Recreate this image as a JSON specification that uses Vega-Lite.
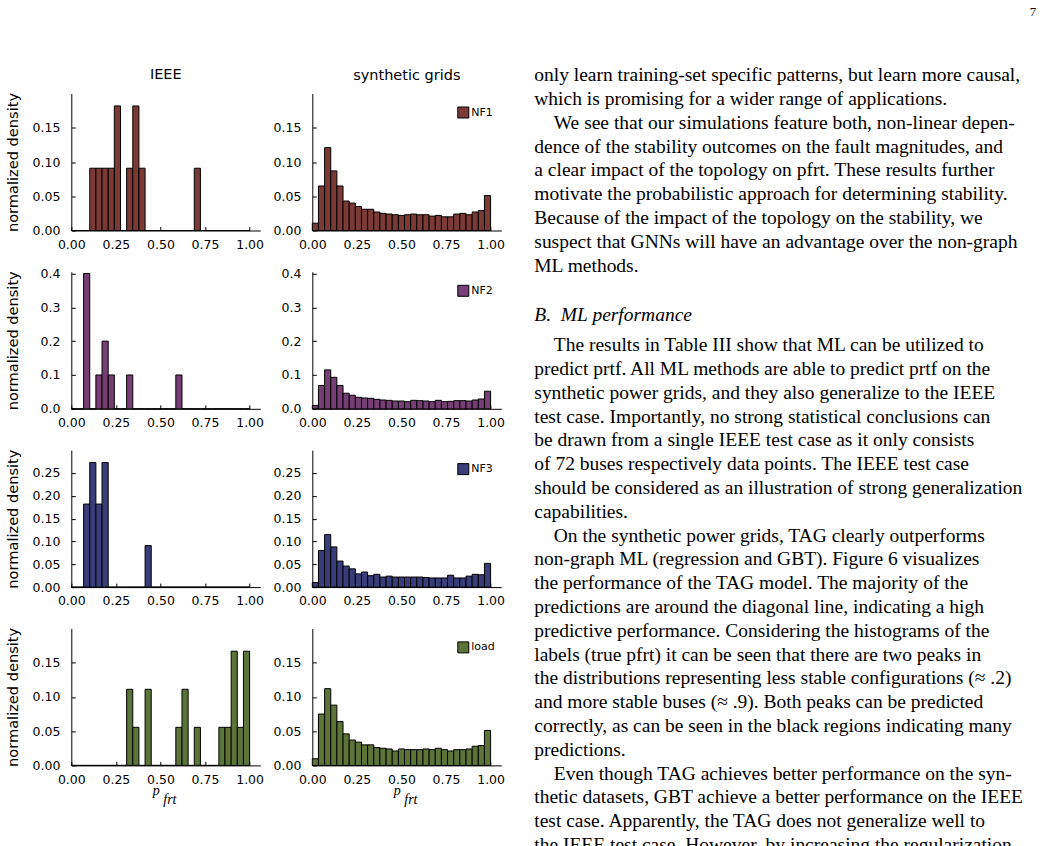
{
"$schema": "https://vega.github.io/schema/vega-lite/v6.json",
"background": "white",
"padding": {"left": 5.3, "top": 5.5, "right": 0, "bottom": 0},
"spacing": 29,
"config": {
  "font": "DejaVu Sans",
  "view": {"stroke": null},
  "axis": {"grid": false, "domainColor": "black", "domainWidth": 1, "tickColor": "black", "tickSize": -4, "tickWidth": 1, "labelFlush": false, "labelOverlap": false, "labelFont": "DejaVu Sans", "labelFontSize": 12.5, "labelColor": "black", "titleFont": "DejaVu Sans", "titleFontSize": 14.6, "titleFontWeight": "normal", "titleColor": "black"},
  "axisX": {"labelPadding": 11.8},
  "axisY": {"labelPadding": 15.4},
  "title": {"font": "DejaVu Sans", "fontSize": 14.5, "fontWeight": "normal", "color": "black", "anchor": "middle", "offset": 10},
  "legend": {"symbolType": "square", "symbolSize": 121, "symbolStrokeColor": "black", "symbolStrokeWidth": 1, "symbolOpacity": 1, "labelFont": "DejaVu Sans", "labelFontSize": 11, "labelColor": "black", "labelOffset": 2, "padding": 0}
},
"resolve": {"scale": {"fill": "independent"}, "legend": {"fill": "independent"}},
"datasets": {
"hist": [
{"grid":"IEEE","feature":"NF1","start":0,"end":0.0345,"density":0},
{"grid":"IEEE","feature":"NF1","start":0.0345,"end":0.069,"density":0},
{"grid":"IEEE","feature":"NF1","start":0.069,"end":0.1034,"density":0},
{"grid":"IEEE","feature":"NF1","start":0.1034,"end":0.1379,"density":0.0909},
{"grid":"IEEE","feature":"NF1","start":0.1379,"end":0.1724,"density":0.0909},
{"grid":"IEEE","feature":"NF1","start":0.1724,"end":0.2069,"density":0.0909},
{"grid":"IEEE","feature":"NF1","start":0.2069,"end":0.2414,"density":0.0909},
{"grid":"IEEE","feature":"NF1","start":0.2414,"end":0.2759,"density":0.1818},
{"grid":"IEEE","feature":"NF1","start":0.2759,"end":0.3103,"density":0},
{"grid":"IEEE","feature":"NF1","start":0.3103,"end":0.3448,"density":0.0909},
{"grid":"IEEE","feature":"NF1","start":0.3448,"end":0.3793,"density":0.1818},
{"grid":"IEEE","feature":"NF1","start":0.3793,"end":0.4138,"density":0.0909},
{"grid":"IEEE","feature":"NF1","start":0.4138,"end":0.4483,"density":0},
{"grid":"IEEE","feature":"NF1","start":0.4483,"end":0.4828,"density":0},
{"grid":"IEEE","feature":"NF1","start":0.4828,"end":0.5172,"density":0},
{"grid":"IEEE","feature":"NF1","start":0.5172,"end":0.5517,"density":0},
{"grid":"IEEE","feature":"NF1","start":0.5517,"end":0.5862,"density":0},
{"grid":"IEEE","feature":"NF1","start":0.5862,"end":0.6207,"density":0},
{"grid":"IEEE","feature":"NF1","start":0.6207,"end":0.6552,"density":0},
{"grid":"IEEE","feature":"NF1","start":0.6552,"end":0.6897,"density":0},
{"grid":"IEEE","feature":"NF1","start":0.6897,"end":0.7241,"density":0.0909},
{"grid":"IEEE","feature":"NF1","start":0.7241,"end":0.7586,"density":0},
{"grid":"IEEE","feature":"NF1","start":0.7586,"end":0.7931,"density":0},
{"grid":"IEEE","feature":"NF1","start":0.7931,"end":0.8276,"density":0},
{"grid":"IEEE","feature":"NF1","start":0.8276,"end":0.8621,"density":0},
{"grid":"IEEE","feature":"NF1","start":0.8621,"end":0.8966,"density":0},
{"grid":"IEEE","feature":"NF1","start":0.8966,"end":0.931,"density":0},
{"grid":"IEEE","feature":"NF1","start":0.931,"end":0.9655,"density":0},
{"grid":"IEEE","feature":"NF1","start":0.9655,"end":1,"density":0},
{"grid":"synthetic","feature":"NF1","start":0,"end":0.0345,"density":0.0107},
{"grid":"synthetic","feature":"NF1","start":0.0345,"end":0.069,"density":0.065},
{"grid":"synthetic","feature":"NF1","start":0.069,"end":0.1034,"density":0.121},
{"grid":"synthetic","feature":"NF1","start":0.1034,"end":0.1379,"density":0.087},
{"grid":"synthetic","feature":"NF1","start":0.1379,"end":0.1724,"density":0.065},
{"grid":"synthetic","feature":"NF1","start":0.1724,"end":0.2069,"density":0.043},
{"grid":"synthetic","feature":"NF1","start":0.2069,"end":0.2414,"density":0.04},
{"grid":"synthetic","feature":"NF1","start":0.2414,"end":0.2759,"density":0.035},
{"grid":"synthetic","feature":"NF1","start":0.2759,"end":0.3103,"density":0.031},
{"grid":"synthetic","feature":"NF1","start":0.3103,"end":0.3448,"density":0.031},
{"grid":"synthetic","feature":"NF1","start":0.3448,"end":0.3793,"density":0.027},
{"grid":"synthetic","feature":"NF1","start":0.3793,"end":0.4138,"density":0.025},
{"grid":"synthetic","feature":"NF1","start":0.4138,"end":0.4483,"density":0.024},
{"grid":"synthetic","feature":"NF1","start":0.4483,"end":0.4828,"density":0.023},
{"grid":"synthetic","feature":"NF1","start":0.4828,"end":0.5172,"density":0.022},
{"grid":"synthetic","feature":"NF1","start":0.5172,"end":0.5517,"density":0.023},
{"grid":"synthetic","feature":"NF1","start":0.5517,"end":0.5862,"density":0.024},
{"grid":"synthetic","feature":"NF1","start":0.5862,"end":0.6207,"density":0.023},
{"grid":"synthetic","feature":"NF1","start":0.6207,"end":0.6552,"density":0.023},
{"grid":"synthetic","feature":"NF1","start":0.6552,"end":0.6897,"density":0.021},
{"grid":"synthetic","feature":"NF1","start":0.6897,"end":0.7241,"density":0.022},
{"grid":"synthetic","feature":"NF1","start":0.7241,"end":0.7586,"density":0.02},
{"grid":"synthetic","feature":"NF1","start":0.7586,"end":0.7931,"density":0.02},
{"grid":"synthetic","feature":"NF1","start":0.7931,"end":0.8276,"density":0.024},
{"grid":"synthetic","feature":"NF1","start":0.8276,"end":0.8621,"density":0.025},
{"grid":"synthetic","feature":"NF1","start":0.8621,"end":0.8966,"density":0.023},
{"grid":"synthetic","feature":"NF1","start":0.8966,"end":0.931,"density":0.027},
{"grid":"synthetic","feature":"NF1","start":0.931,"end":0.9655,"density":0.029},
{"grid":"synthetic","feature":"NF1","start":0.9655,"end":1,"density":0.051},
{"grid":"IEEE","feature":"NF2","start":0,"end":0.0345,"density":0},
{"grid":"IEEE","feature":"NF2","start":0.0345,"end":0.069,"density":0},
{"grid":"IEEE","feature":"NF2","start":0.069,"end":0.1034,"density":0.4},
{"grid":"IEEE","feature":"NF2","start":0.1034,"end":0.1379,"density":0},
{"grid":"IEEE","feature":"NF2","start":0.1379,"end":0.1724,"density":0.1},
{"grid":"IEEE","feature":"NF2","start":0.1724,"end":0.2069,"density":0.2},
{"grid":"IEEE","feature":"NF2","start":0.2069,"end":0.2414,"density":0.1},
{"grid":"IEEE","feature":"NF2","start":0.2414,"end":0.2759,"density":0},
{"grid":"IEEE","feature":"NF2","start":0.2759,"end":0.3103,"density":0},
{"grid":"IEEE","feature":"NF2","start":0.3103,"end":0.3448,"density":0.1},
{"grid":"IEEE","feature":"NF2","start":0.3448,"end":0.3793,"density":0},
{"grid":"IEEE","feature":"NF2","start":0.3793,"end":0.4138,"density":0},
{"grid":"IEEE","feature":"NF2","start":0.4138,"end":0.4483,"density":0},
{"grid":"IEEE","feature":"NF2","start":0.4483,"end":0.4828,"density":0},
{"grid":"IEEE","feature":"NF2","start":0.4828,"end":0.5172,"density":0},
{"grid":"IEEE","feature":"NF2","start":0.5172,"end":0.5517,"density":0},
{"grid":"IEEE","feature":"NF2","start":0.5517,"end":0.5862,"density":0},
{"grid":"IEEE","feature":"NF2","start":0.5862,"end":0.6207,"density":0.1},
{"grid":"IEEE","feature":"NF2","start":0.6207,"end":0.6552,"density":0},
{"grid":"IEEE","feature":"NF2","start":0.6552,"end":0.6897,"density":0},
{"grid":"IEEE","feature":"NF2","start":0.6897,"end":0.7241,"density":0},
{"grid":"IEEE","feature":"NF2","start":0.7241,"end":0.7586,"density":0},
{"grid":"IEEE","feature":"NF2","start":0.7586,"end":0.7931,"density":0},
{"grid":"IEEE","feature":"NF2","start":0.7931,"end":0.8276,"density":0},
{"grid":"IEEE","feature":"NF2","start":0.8276,"end":0.8621,"density":0},
{"grid":"IEEE","feature":"NF2","start":0.8621,"end":0.8966,"density":0},
{"grid":"IEEE","feature":"NF2","start":0.8966,"end":0.931,"density":0},
{"grid":"IEEE","feature":"NF2","start":0.931,"end":0.9655,"density":0},
{"grid":"IEEE","feature":"NF2","start":0.9655,"end":1,"density":0},
{"grid":"synthetic","feature":"NF2","start":0,"end":0.0345,"density":0.01},
{"grid":"synthetic","feature":"NF2","start":0.0345,"end":0.069,"density":0.069},
{"grid":"synthetic","feature":"NF2","start":0.069,"end":0.1034,"density":0.115},
{"grid":"synthetic","feature":"NF2","start":0.1034,"end":0.1379,"density":0.093},
{"grid":"synthetic","feature":"NF2","start":0.1379,"end":0.1724,"density":0.069},
{"grid":"synthetic","feature":"NF2","start":0.1724,"end":0.2069,"density":0.046},
{"grid":"synthetic","feature":"NF2","start":0.2069,"end":0.2414,"density":0.04},
{"grid":"synthetic","feature":"NF2","start":0.2414,"end":0.2759,"density":0.034},
{"grid":"synthetic","feature":"NF2","start":0.2759,"end":0.3103,"density":0.032},
{"grid":"synthetic","feature":"NF2","start":0.3103,"end":0.3448,"density":0.031},
{"grid":"synthetic","feature":"NF2","start":0.3448,"end":0.3793,"density":0.028},
{"grid":"synthetic","feature":"NF2","start":0.3793,"end":0.4138,"density":0.026},
{"grid":"synthetic","feature":"NF2","start":0.4138,"end":0.4483,"density":0.025},
{"grid":"synthetic","feature":"NF2","start":0.4483,"end":0.4828,"density":0.023},
{"grid":"synthetic","feature":"NF2","start":0.4828,"end":0.5172,"density":0.023},
{"grid":"synthetic","feature":"NF2","start":0.5172,"end":0.5517,"density":0.021},
{"grid":"synthetic","feature":"NF2","start":0.5517,"end":0.5862,"density":0.025},
{"grid":"synthetic","feature":"NF2","start":0.5862,"end":0.6207,"density":0.024},
{"grid":"synthetic","feature":"NF2","start":0.6207,"end":0.6552,"density":0.023},
{"grid":"synthetic","feature":"NF2","start":0.6552,"end":0.6897,"density":0.021},
{"grid":"synthetic","feature":"NF2","start":0.6897,"end":0.7241,"density":0.025},
{"grid":"synthetic","feature":"NF2","start":0.7241,"end":0.7586,"density":0.021},
{"grid":"synthetic","feature":"NF2","start":0.7586,"end":0.7931,"density":0.022},
{"grid":"synthetic","feature":"NF2","start":0.7931,"end":0.8276,"density":0.024},
{"grid":"synthetic","feature":"NF2","start":0.8276,"end":0.8621,"density":0.024},
{"grid":"synthetic","feature":"NF2","start":0.8621,"end":0.8966,"density":0.023},
{"grid":"synthetic","feature":"NF2","start":0.8966,"end":0.931,"density":0.026},
{"grid":"synthetic","feature":"NF2","start":0.931,"end":0.9655,"density":0.029},
{"grid":"synthetic","feature":"NF2","start":0.9655,"end":1,"density":0.052},
{"grid":"IEEE","feature":"NF3","start":0,"end":0.0345,"density":0},
{"grid":"IEEE","feature":"NF3","start":0.0345,"end":0.069,"density":0},
{"grid":"IEEE","feature":"NF3","start":0.069,"end":0.1034,"density":0.1818},
{"grid":"IEEE","feature":"NF3","start":0.1034,"end":0.1379,"density":0.2727},
{"grid":"IEEE","feature":"NF3","start":0.1379,"end":0.1724,"density":0.1818},
{"grid":"IEEE","feature":"NF3","start":0.1724,"end":0.2069,"density":0.2727},
{"grid":"IEEE","feature":"NF3","start":0.2069,"end":0.2414,"density":0},
{"grid":"IEEE","feature":"NF3","start":0.2414,"end":0.2759,"density":0},
{"grid":"IEEE","feature":"NF3","start":0.2759,"end":0.3103,"density":0},
{"grid":"IEEE","feature":"NF3","start":0.3103,"end":0.3448,"density":0},
{"grid":"IEEE","feature":"NF3","start":0.3448,"end":0.3793,"density":0},
{"grid":"IEEE","feature":"NF3","start":0.3793,"end":0.4138,"density":0},
{"grid":"IEEE","feature":"NF3","start":0.4138,"end":0.4483,"density":0.0909},
{"grid":"IEEE","feature":"NF3","start":0.4483,"end":0.4828,"density":0},
{"grid":"IEEE","feature":"NF3","start":0.4828,"end":0.5172,"density":0},
{"grid":"IEEE","feature":"NF3","start":0.5172,"end":0.5517,"density":0},
{"grid":"IEEE","feature":"NF3","start":0.5517,"end":0.5862,"density":0},
{"grid":"IEEE","feature":"NF3","start":0.5862,"end":0.6207,"density":0},
{"grid":"IEEE","feature":"NF3","start":0.6207,"end":0.6552,"density":0},
{"grid":"IEEE","feature":"NF3","start":0.6552,"end":0.6897,"density":0},
{"grid":"IEEE","feature":"NF3","start":0.6897,"end":0.7241,"density":0},
{"grid":"IEEE","feature":"NF3","start":0.7241,"end":0.7586,"density":0},
{"grid":"IEEE","feature":"NF3","start":0.7586,"end":0.7931,"density":0},
{"grid":"IEEE","feature":"NF3","start":0.7931,"end":0.8276,"density":0},
{"grid":"IEEE","feature":"NF3","start":0.8276,"end":0.8621,"density":0},
{"grid":"IEEE","feature":"NF3","start":0.8621,"end":0.8966,"density":0},
{"grid":"IEEE","feature":"NF3","start":0.8966,"end":0.931,"density":0},
{"grid":"IEEE","feature":"NF3","start":0.931,"end":0.9655,"density":0},
{"grid":"IEEE","feature":"NF3","start":0.9655,"end":1,"density":0},
{"grid":"synthetic","feature":"NF3","start":0,"end":0.0345,"density":0.01},
{"grid":"synthetic","feature":"NF3","start":0.0345,"end":0.069,"density":0.08},
{"grid":"synthetic","feature":"NF3","start":0.069,"end":0.1034,"density":0.115},
{"grid":"synthetic","feature":"NF3","start":0.1034,"end":0.1379,"density":0.088},
{"grid":"synthetic","feature":"NF3","start":0.1379,"end":0.1724,"density":0.057},
{"grid":"synthetic","feature":"NF3","start":0.1724,"end":0.2069,"density":0.046},
{"grid":"synthetic","feature":"NF3","start":0.2069,"end":0.2414,"density":0.04},
{"grid":"synthetic","feature":"NF3","start":0.2414,"end":0.2759,"density":0.029},
{"grid":"synthetic","feature":"NF3","start":0.2759,"end":0.3103,"density":0.033},
{"grid":"synthetic","feature":"NF3","start":0.3103,"end":0.3448,"density":0.025},
{"grid":"synthetic","feature":"NF3","start":0.3448,"end":0.3793,"density":0.028},
{"grid":"synthetic","feature":"NF3","start":0.3793,"end":0.4138,"density":0.022},
{"grid":"synthetic","feature":"NF3","start":0.4138,"end":0.4483,"density":0.024},
{"grid":"synthetic","feature":"NF3","start":0.4483,"end":0.4828,"density":0.022},
{"grid":"synthetic","feature":"NF3","start":0.4828,"end":0.5172,"density":0.022},
{"grid":"synthetic","feature":"NF3","start":0.5172,"end":0.5517,"density":0.022},
{"grid":"synthetic","feature":"NF3","start":0.5517,"end":0.5862,"density":0.022},
{"grid":"synthetic","feature":"NF3","start":0.5862,"end":0.6207,"density":0.022},
{"grid":"synthetic","feature":"NF3","start":0.6207,"end":0.6552,"density":0.021},
{"grid":"synthetic","feature":"NF3","start":0.6552,"end":0.6897,"density":0.02},
{"grid":"synthetic","feature":"NF3","start":0.6897,"end":0.7241,"density":0.02},
{"grid":"synthetic","feature":"NF3","start":0.7241,"end":0.7586,"density":0.02},
{"grid":"synthetic","feature":"NF3","start":0.7586,"end":0.7931,"density":0.026},
{"grid":"synthetic","feature":"NF3","start":0.7931,"end":0.8276,"density":0.02},
{"grid":"synthetic","feature":"NF3","start":0.8276,"end":0.8621,"density":0.02},
{"grid":"synthetic","feature":"NF3","start":0.8621,"end":0.8966,"density":0.024},
{"grid":"synthetic","feature":"NF3","start":0.8966,"end":0.931,"density":0.028},
{"grid":"synthetic","feature":"NF3","start":0.931,"end":0.9655,"density":0.027},
{"grid":"synthetic","feature":"NF3","start":0.9655,"end":1,"density":0.052},
{"grid":"IEEE","feature":"load","start":0,"end":0.0345,"density":0},
{"grid":"IEEE","feature":"load","start":0.0345,"end":0.069,"density":0},
{"grid":"IEEE","feature":"load","start":0.069,"end":0.1034,"density":0},
{"grid":"IEEE","feature":"load","start":0.1034,"end":0.1379,"density":0},
{"grid":"IEEE","feature":"load","start":0.1379,"end":0.1724,"density":0},
{"grid":"IEEE","feature":"load","start":0.1724,"end":0.2069,"density":0},
{"grid":"IEEE","feature":"load","start":0.2069,"end":0.2414,"density":0},
{"grid":"IEEE","feature":"load","start":0.2414,"end":0.2759,"density":0},
{"grid":"IEEE","feature":"load","start":0.2759,"end":0.3103,"density":0},
{"grid":"IEEE","feature":"load","start":0.3103,"end":0.3448,"density":0.1111},
{"grid":"IEEE","feature":"load","start":0.3448,"end":0.3793,"density":0.0556},
{"grid":"IEEE","feature":"load","start":0.3793,"end":0.4138,"density":0},
{"grid":"IEEE","feature":"load","start":0.4138,"end":0.4483,"density":0.1111},
{"grid":"IEEE","feature":"load","start":0.4483,"end":0.4828,"density":0},
{"grid":"IEEE","feature":"load","start":0.4828,"end":0.5172,"density":0},
{"grid":"IEEE","feature":"load","start":0.5172,"end":0.5517,"density":0},
{"grid":"IEEE","feature":"load","start":0.5517,"end":0.5862,"density":0},
{"grid":"IEEE","feature":"load","start":0.5862,"end":0.6207,"density":0.0556},
{"grid":"IEEE","feature":"load","start":0.6207,"end":0.6552,"density":0.1111},
{"grid":"IEEE","feature":"load","start":0.6552,"end":0.6897,"density":0},
{"grid":"IEEE","feature":"load","start":0.6897,"end":0.7241,"density":0.0556},
{"grid":"IEEE","feature":"load","start":0.7241,"end":0.7586,"density":0},
{"grid":"IEEE","feature":"load","start":0.7586,"end":0.7931,"density":0},
{"grid":"IEEE","feature":"load","start":0.7931,"end":0.8276,"density":0},
{"grid":"IEEE","feature":"load","start":0.8276,"end":0.8621,"density":0.0556},
{"grid":"IEEE","feature":"load","start":0.8621,"end":0.8966,"density":0.0556},
{"grid":"IEEE","feature":"load","start":0.8966,"end":0.931,"density":0.1667},
{"grid":"IEEE","feature":"load","start":0.931,"end":0.9655,"density":0.0556},
{"grid":"IEEE","feature":"load","start":0.9655,"end":1,"density":0.1667},
{"grid":"synthetic","feature":"load","start":0,"end":0.0345,"density":0.0097},
{"grid":"synthetic","feature":"load","start":0.0345,"end":0.069,"density":0.075},
{"grid":"synthetic","feature":"load","start":0.069,"end":0.1034,"density":0.112},
{"grid":"synthetic","feature":"load","start":0.1034,"end":0.1379,"density":0.088},
{"grid":"synthetic","feature":"load","start":0.1379,"end":0.1724,"density":0.064},
{"grid":"synthetic","feature":"load","start":0.1724,"end":0.2069,"density":0.046},
{"grid":"synthetic","feature":"load","start":0.2069,"end":0.2414,"density":0.037},
{"grid":"synthetic","feature":"load","start":0.2414,"end":0.2759,"density":0.034},
{"grid":"synthetic","feature":"load","start":0.2759,"end":0.3103,"density":0.03},
{"grid":"synthetic","feature":"load","start":0.3103,"end":0.3448,"density":0.03},
{"grid":"synthetic","feature":"load","start":0.3448,"end":0.3793,"density":0.026},
{"grid":"synthetic","feature":"load","start":0.3793,"end":0.4138,"density":0.025},
{"grid":"synthetic","feature":"load","start":0.4138,"end":0.4483,"density":0.024},
{"grid":"synthetic","feature":"load","start":0.4483,"end":0.4828,"density":0.021},
{"grid":"synthetic","feature":"load","start":0.4828,"end":0.5172,"density":0.024},
{"grid":"synthetic","feature":"load","start":0.5172,"end":0.5517,"density":0.023},
{"grid":"synthetic","feature":"load","start":0.5517,"end":0.5862,"density":0.023},
{"grid":"synthetic","feature":"load","start":0.5862,"end":0.6207,"density":0.023},
{"grid":"synthetic","feature":"load","start":0.6207,"end":0.6552,"density":0.024},
{"grid":"synthetic","feature":"load","start":0.6552,"end":0.6897,"density":0.023},
{"grid":"synthetic","feature":"load","start":0.6897,"end":0.7241,"density":0.025},
{"grid":"synthetic","feature":"load","start":0.7241,"end":0.7586,"density":0.023},
{"grid":"synthetic","feature":"load","start":0.7586,"end":0.7931,"density":0.021},
{"grid":"synthetic","feature":"load","start":0.7931,"end":0.8276,"density":0.023},
{"grid":"synthetic","feature":"load","start":0.8276,"end":0.8621,"density":0.023},
{"grid":"synthetic","feature":"load","start":0.8621,"end":0.8966,"density":0.024},
{"grid":"synthetic","feature":"load","start":0.8966,"end":0.931,"density":0.028},
{"grid":"synthetic","feature":"load","start":0.931,"end":0.9655,"density":0.029},
{"grid":"synthetic","feature":"load","start":0.9655,"end":1,"density":0.051}
],
"pagenum": [{"line": 1, "text": "7"}],
"body1": [
{"line": 1, "text": "only learn training-set specific patterns, but learn more causal,"},
{"line": 2, "text": "which is promising for a wider range of applications."},
{"line": 3, "text": "\u200b\u00a0\u00a0\u00a0\u00a0We see that our simulations feature both, non-linear depen-"},
{"line": 4, "text": "dence of the stability outcomes on the fault magnitudes, and"},
{"line": 5, "text": "a clear impact of the topology on pfrt. These results further"},
{"line": 6, "text": "motivate the probabilistic approach for determining stability."},
{"line": 7, "text": "Because of the impact of the topology on the stability, we"},
{"line": 8, "text": "suspect that GNNs will have an advantage over the non-graph"},
{"line": 9, "text": "ML methods."}
],
"heading": [{"line": 1, "text": "B.\u00a0\u00a0ML performance"}],
"body2": [
{"line": 1, "text": "\u200b\u00a0\u00a0\u00a0\u00a0The results in Table III show that ML can be utilized to"},
{"line": 2, "text": "predict prtf. All ML methods are able to predict prtf on the"},
{"line": 3, "text": "synthetic power grids, and they also generalize to the IEEE"},
{"line": 4, "text": "test case. Importantly, no strong statistical conclusions can"},
{"line": 5, "text": "be drawn from a single IEEE test case as it only consists"},
{"line": 6, "text": "of 72 buses respectively data points. The IEEE test case"},
{"line": 7, "text": "should be considered as an illustration of strong generalization"},
{"line": 8, "text": "capabilities."},
{"line": 9, "text": "\u200b\u00a0\u00a0\u00a0\u00a0On the synthetic power grids, TAG clearly outperforms"},
{"line": 10, "text": "non-graph ML (regression and GBT). Figure 6 visualizes"},
{"line": 11, "text": "the performance of the TAG model. The majority of the"},
{"line": 12, "text": "predictions are around the diagonal line, indicating a high"},
{"line": 13, "text": "predictive performance. Considering the histograms of the"},
{"line": 14, "text": "labels (true pfrt) it can be seen that there are two peaks in"},
{"line": 15, "text": "the distributions representing less stable configurations (\u2248 .2)"},
{"line": 16, "text": "and more stable buses (\u2248 .9). Both peaks can be predicted"},
{"line": 17, "text": "correctly, as can be seen in the black regions indicating many"},
{"line": 18, "text": "predictions."},
{"line": 19, "text": "\u200b\u00a0\u00a0\u00a0\u00a0Even though TAG achieves better performance on the syn-"},
{"line": 20, "text": "thetic datasets, GBT achieve a better performance on the IEEE"},
{"line": 21, "text": "test case. Apparently, the TAG does not generalize well to"},
{"line": 22, "text": "the IEEE test case. However, by increasing the regularization"}
]
},
"hconcat": [
{
"columns": 2,
"bounds": "flush",
"spacing": {"row": 41.3, "column": 52},
"resolve": {"scale": {"fill": "independent"}, "legend": {"fill": "independent"}},
"concat": [
{"width": 189, "height": 137, "title": "IEEE",
 "data": {"name": "hist"},
 "transform": [{"filter": "datum.grid === 'IEEE' && datum.feature === 'NF1'"}],
 "mark": {"type": "rect", "fill": "#7b3a36", "stroke": "black", "strokeWidth": 1},
 "encoding": {
  "x": {"field": "start", "type": "quantitative", "scale": {"domain": [0, 1.06], "nice": false}, "axis": {"values": [0, 0.25, 0.5, 0.75, 1], "format": ".2f", "title": null}},
  "x2": {"field": "end"},
  "y": {"field": "density", "type": "quantitative", "scale": {"domain": [0, 0.2], "nice": false}, "axis": {"values": [0, 0.05, 0.1, 0.15], "format": ".2f", "title": "normalized density", "titleX": -53.7, "titleY": 68.5, "titleBaseline": "alphabetic"}},
  "y2": {"datum": 0}}},
{"width": 189, "height": 137, "title": "synthetic grids",
 "data": {"name": "hist"},
 "transform": [{"filter": "datum.grid === 'synthetic' && datum.feature === 'NF1'"}],
 "mark": {"type": "rect", "stroke": "black", "strokeWidth": 1},
 "encoding": {
  "x": {"field": "start", "type": "quantitative", "scale": {"domain": [0, 1.06], "nice": false}, "axis": {"values": [0, 0.25, 0.5, 0.75, 1], "format": ".2f", "title": null}},
  "x2": {"field": "end"},
  "y": {"field": "density", "type": "quantitative", "scale": {"domain": [0, 0.2], "nice": false}, "axis": {"values": [0, 0.05, 0.1, 0.15], "format": ".2f", "title": null}},
  "y2": {"datum": 0},
  "fill": {"field": "feature", "type": "nominal", "scale": {"range": ["#7b3a36"]}, "legend": {"orient": "none", "legendX": 145, "legendY": 13, "title": null}}}},
{"width": 189, "height": 137,
 "data": {"name": "hist"},
 "transform": [{"filter": "datum.grid === 'IEEE' && datum.feature === 'NF2'"}],
 "mark": {"type": "rect", "fill": "#763e74", "stroke": "black", "strokeWidth": 1},
 "encoding": {
  "x": {"field": "start", "type": "quantitative", "scale": {"domain": [0, 1.06], "nice": false}, "axis": {"values": [0, 0.25, 0.5, 0.75, 1], "format": ".2f", "title": null}},
  "x2": {"field": "end"},
  "y": {"field": "density", "type": "quantitative", "scale": {"domain": [0, 0.405], "nice": false}, "axis": {"values": [0, 0.1, 0.2, 0.3, 0.4], "format": ".1f", "title": "normalized density", "titleX": -53.7, "titleY": 68.5, "titleBaseline": "alphabetic"}},
  "y2": {"datum": 0}}},
{"width": 189, "height": 137,
 "data": {"name": "hist"},
 "transform": [{"filter": "datum.grid === 'synthetic' && datum.feature === 'NF2'"}],
 "mark": {"type": "rect", "stroke": "black", "strokeWidth": 1},
 "encoding": {
  "x": {"field": "start", "type": "quantitative", "scale": {"domain": [0, 1.06], "nice": false}, "axis": {"values": [0, 0.25, 0.5, 0.75, 1], "format": ".2f", "title": null}},
  "x2": {"field": "end"},
  "y": {"field": "density", "type": "quantitative", "scale": {"domain": [0, 0.405], "nice": false}, "axis": {"values": [0, 0.1, 0.2, 0.3, 0.4], "format": ".1f", "title": null}},
  "y2": {"datum": 0},
  "fill": {"field": "feature", "type": "nominal", "scale": {"range": ["#763e74"]}, "legend": {"orient": "none", "legendX": 145, "legendY": 13, "title": null}}}},
{"width": 189, "height": 137,
 "data": {"name": "hist"},
 "transform": [{"filter": "datum.grid === 'IEEE' && datum.feature === 'NF3'"}],
 "mark": {"type": "rect", "fill": "#393d79", "stroke": "black", "strokeWidth": 1},
 "encoding": {
  "x": {"field": "start", "type": "quantitative", "scale": {"domain": [0, 1.06], "nice": false}, "axis": {"values": [0, 0.25, 0.5, 0.75, 1], "format": ".2f", "title": null}},
  "x2": {"field": "end"},
  "y": {"field": "density", "type": "quantitative", "scale": {"domain": [0, 0.3], "nice": false}, "axis": {"values": [0, 0.05, 0.1, 0.15, 0.2, 0.25], "format": ".2f", "title": "normalized density", "titleX": -53.7, "titleY": 68.5, "titleBaseline": "alphabetic"}},
  "y2": {"datum": 0}}},
{"width": 189, "height": 137,
 "data": {"name": "hist"},
 "transform": [{"filter": "datum.grid === 'synthetic' && datum.feature === 'NF3'"}],
 "mark": {"type": "rect", "stroke": "black", "strokeWidth": 1},
 "encoding": {
  "x": {"field": "start", "type": "quantitative", "scale": {"domain": [0, 1.06], "nice": false}, "axis": {"values": [0, 0.25, 0.5, 0.75, 1], "format": ".2f", "title": null}},
  "x2": {"field": "end"},
  "y": {"field": "density", "type": "quantitative", "scale": {"domain": [0, 0.3], "nice": false}, "axis": {"values": [0, 0.05, 0.1, 0.15, 0.2, 0.25], "format": ".2f", "title": null}},
  "y2": {"datum": 0},
  "fill": {"field": "feature", "type": "nominal", "scale": {"range": ["#393d79"]}, "legend": {"orient": "none", "legendX": 145, "legendY": 13, "title": null}}}},
{"width": 189, "height": 137,
 "data": {"name": "hist"},
 "transform": [{"filter": "datum.grid === 'IEEE' && datum.feature === 'load'"}],
 "mark": {"type": "rect", "fill": "#5c7437", "stroke": "black", "strokeWidth": 1},
 "encoding": {
  "x": {"field": "start", "type": "quantitative", "scale": {"domain": [0, 1.06], "nice": false}, "axis": {"values": [0, 0.25, 0.5, 0.75, 1], "format": ".2f", "title": ["p", "\u200b\u00a0\u00a0\u00a0frt"], "titleFont": "Liberation Serif", "titleFontStyle": "italic", "titleFontSize": 14, "titleAlign": "left", "titleX": 81, "titleY": 18, "titleLineHeight": 9, "titleBaseline": "top"}},
  "x2": {"field": "end"},
  "y": {"field": "density", "type": "quantitative", "scale": {"domain": [0, 0.2], "nice": false}, "axis": {"values": [0, 0.05, 0.1, 0.15], "format": ".2f", "title": "normalized density", "titleX": -53.7, "titleY": 68.5, "titleBaseline": "alphabetic"}},
  "y2": {"datum": 0}}},
{"width": 189, "height": 137,
 "data": {"name": "hist"},
 "transform": [{"filter": "datum.grid === 'synthetic' && datum.feature === 'load'"}],
 "mark": {"type": "rect", "stroke": "black", "strokeWidth": 1},
 "encoding": {
  "x": {"field": "start", "type": "quantitative", "scale": {"domain": [0, 1.06], "nice": false}, "axis": {"values": [0, 0.25, 0.5, 0.75, 1], "format": ".2f", "title": ["p", "\u200b\u00a0\u00a0\u00a0frt"], "titleFont": "Liberation Serif", "titleFontStyle": "italic", "titleFontSize": 14, "titleAlign": "left", "titleX": 81, "titleY": 18, "titleLineHeight": 9, "titleBaseline": "top"}},
  "x2": {"field": "end"},
  "y": {"field": "density", "type": "quantitative", "scale": {"domain": [0, 0.2], "nice": false}, "axis": {"values": [0, 0.05, 0.1, 0.15], "format": ".2f", "title": null}},
  "y2": {"datum": 0},
  "fill": {"field": "feature", "type": "nominal", "scale": {"range": ["#5c7437"]}, "legend": {"orient": "none", "legendX": 145, "legendY": 13, "title": null}}}}
]
},
{
"width": 502, "height": 750,
"resolve": {"scale": {"y": "independent"}},
"layer": [
 {"data": {"name": "pagenum"},
  "mark": {"type": "text", "align": "right", "baseline": "middle", "font": "Liberation Serif", "fontSize": 13, "color": "black"},
  "encoding": {"x": {"datum": 1, "type": "quantitative", "scale": {"domain": [0, 1]}, "axis": null},
   "y": {"field": "line", "type": "quantitative", "scale": {"domain": [4.416, 35.926], "reverse": true}, "axis": null},
   "text": {"field": "text"}}},
 {"data": {"name": "body1"},
  "mark": {"type": "text", "align": "left", "baseline": "middle", "font": "Liberation Serif", "fontSize": 19.5, "color": "black"},
  "encoding": {"x": {"datum": 0, "type": "quantitative", "scale": {"domain": [0, 1]}, "axis": null},
   "y": {"field": "line", "type": "quantitative", "scale": {"domain": [1.769, 33.279], "reverse": true}, "axis": null},
   "text": {"field": "text"}}},
 {"data": {"name": "heading"},
  "mark": {"type": "text", "align": "left", "baseline": "middle", "font": "Liberation Serif", "fontStyle": "italic", "fontSize": 19.5, "color": "black"},
  "encoding": {"x": {"datum": 0, "type": "quantitative", "scale": {"domain": [0, 1]}, "axis": null},
   "y": {"field": "line", "type": "quantitative", "scale": {"domain": [-8.315, 23.195], "reverse": true}, "axis": null},
   "text": {"field": "text"}}},
 {"data": {"name": "body2"},
  "mark": {"type": "text", "align": "left", "baseline": "middle", "font": "Liberation Serif", "fontSize": 19.5, "color": "black"},
  "encoding": {"x": {"datum": 0, "type": "quantitative", "scale": {"domain": [0, 1]}, "axis": null},
   "y": {"field": "line", "type": "quantitative", "scale": {"domain": [-9.576, 21.934], "reverse": true}, "axis": null},
   "text": {"field": "text"}}}
]
}
]
}
